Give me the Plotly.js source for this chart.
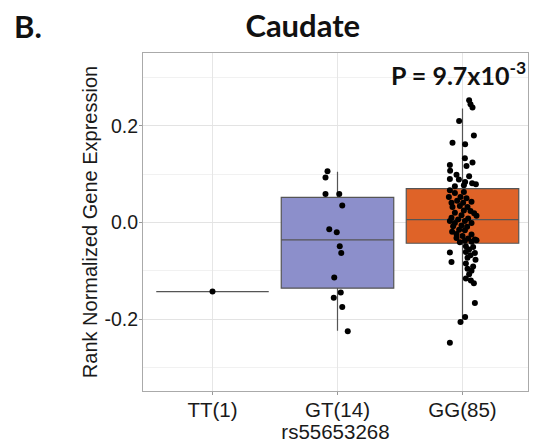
<!DOCTYPE html>
<html><head><meta charset="utf-8">
<script src="https://cdn.plot.ly/plotly-3.0.1.min.js"></script>
<style>html,body{margin:0;padding:0;background:#fff}#plot{width:534px;height:443px}</style>
</head><body><div id="plot"></div>
<script>
// Categories and tick labels
const categories = ["TT(1)", "GT(14)", "GG(85)"];
const catPos = [1, 2, 3];
// Box statistics
const boxQ1 = [-0.143, -0.136, -0.043];
const boxMedian = [-0.143, -0.036, 0.006];
const boxQ3 = [-0.143, 0.052, 0.070];
const boxLower = [-0.143, -0.224, -0.209];
const boxUpper = [-0.143, 0.105, 0.236];
const boxFill = ["#ffffff", "#8c8fcb", "#df6328"];
// Individual points (values and horizontal jitter)
const ttVals = [-0.143];
const ttJitter = [0];
const gtVals = [0.106, 0.093, 0.059, 0.059, 0.035, -0.014, -0.020, -0.049, -0.063, -0.114, -0.145, -0.156, -0.175, -0.225];
const gtJitter = [-0.080, -0.096, -0.096, 0.014, 0.038, -0.066, -0.006, 0.018, 0.030, -0.026, 0.026, -0.030, 0.038, 0.082];
const ggVals = [0.253, 0.245, 0.238, 0.210, 0.180, 0.165, 0.162, 0.133, 0.124, 0.119, 0.117, 0.107, 0.099, 0.096, 0.090, 0.089, 0.084, 0.081, 0.079, 0.077, 0.075,
  0.067, 0.061, 0.063, 0.053, 0.053, 0.050, 0.045, 0.041, 0.041, 0.043, 0.032, 0.034, 0.032, 0.025, 0.024, 0.020, 0.019, 0.014, 0.015, 0.010, 0.008, 0.006,
  0.003, 0.003, -0.001, -0.001, -0.008, -0.006, -0.009, -0.015, -0.016, -0.019, -0.024, -0.025, -0.028, -0.032, -0.033, -0.035, -0.038, -0.040, -0.041, -0.037,
  -0.049, -0.051, -0.056, -0.061, -0.062, -0.063, -0.068, -0.073, -0.082, -0.077, -0.085, -0.091, -0.096, -0.100, -0.107, -0.116, -0.120, -0.126, -0.167, -0.196, -0.206, -0.249];
const ggJitter = [0.053, 0.064, 0.080, -0.027, 0.091, -0.080, 0.021, 0.019, 0.080, -0.101, 0.032, -0.099, -0.048, 0.053, -0.101, -0.029, 0.021, 0.077, 0.107, 0.011, -0.061,
  -0.101, -0.061, 0.011, -0.109, -0.016, 0.032, -0.043, -0.088, 0.005, 0.072, -0.080, -0.021, 0.040, 0.011, 0.064, -0.061, 0.093, 0.112, -0.008, -0.088, 0.045, -0.035,
  -0.101, 0.019, -0.061, 0.072, -0.075, -0.008, 0.037, -0.027, 0.019, -0.083, -0.048, 0.072, 0.000, -0.048, 0.045, 0.099, 0.019, 0.072, -0.021, 0.112,
  0.027, 0.085, 0.053, 0.027, -0.101, 0.099, 0.064, 0.040, -0.088, 0.104, 0.027, 0.085, 0.040, 0.072, 0.053, 0.027, 0.067, 0.091, 0.099, 0.021, -0.016, -0.101];
const yTickVals = [-0.2, 0.0, 0.2];
const yTickText = ["-0.2", "0.0", "0.2"];

const sansFont = "'Liberation Sans', Arial, Helvetica, sans-serif";
const boldFont = "Lato, 'Open Sans', sans-serif";

const traces = [];
for (let i = 0; i < categories.length; i++) {
  traces.push({
    type: "box", x: [catPos[i]], q1: [boxQ1[i]], median: [boxMedian[i]], q3: [boxQ3[i]],
    lowerfence: [boxLower[i]], upperfence: [boxUpper[i]],
    width: 0.9, whiskerwidth: 0, boxpoints: false,
    fillcolor: boxFill[i], line: {color: "#555555", width: 1.2},
    showlegend: false, hoverinfo: "skip"
  });
}
const pointSets = [[ttVals, ttJitter, 1], [gtVals, gtJitter, 2], [ggVals, ggJitter, 3]];
pointSets.forEach(([vals, jit, c]) => {
  traces.push({
    type: "scatter", mode: "markers",
    x: vals.map((v, k) => c + jit[k]), y: vals,
    marker: {color: "#000000", size: 6},
    showlegend: false, hoverinfo: "skip"
  });
});

const layout = {
  width: 534, height: 443,
  margin: {l: 143, r: 6, t: 53, b: 52},
  paper_bgcolor: "#ffffff", plot_bgcolor: "#ffffff",
  font: {family: sansFont, color: "#1a1a1a"},
  showlegend: false, boxmode: "overlay",
  title: {text: "<b>Caudate</b>", font: {family: boldFont, size: 31, color: "#111"},
    x: 0.567, xref: "container", xanchor: "center", y: 0.942, yref: "container", yanchor: "middle"},
  xaxis: {
    range: [0.444, 3.524], tickvals: catPos, ticktext: categories,
    tickfont: {family: sansFont, size: 20.5, color: "#1a1a1a"},
    ticks: "outside", ticklen: 3, tickcolor: "#999", ticklabelstandoff: -3,
    showgrid: true, gridcolor: "#e6e6e6", gridwidth: 1,
    showline: true, linecolor: "#aaaaaa", linewidth: 1, mirror: true, zeroline: false,
    title: {text: "rs55653268", font: {family: sansFont, size: 20.5, color: "#1a1a1a"}, standoff: 3}
  },
  yaxis: {
    range: [-0.349, 0.351], tickvals: yTickVals, ticktext: yTickText,
    tickfont: {family: sansFont, size: 19.5, color: "#1a1a1a"},
    ticks: "outside", ticklen: 3, tickcolor: "#999", ticklabelstandoff: -3,
    showgrid: true, gridcolor: "#e3e3e3", gridwidth: 1,
    minor: {tickvals: [-0.3, -0.1, 0.1, 0.3], showgrid: true, gridcolor: "#f1f1f1", gridwidth: 1, ticks: ""},
    showline: true, linecolor: "#aaaaaa", linewidth: 1, mirror: true, zeroline: false,
    title: {text: "Rank Normalized Gene Expression", font: {family: sansFont, size: 20, color: "#1a1a1a"}, standoff: 1}
  },
  annotations: [
    {text: "<b>B.</b>", xref: "paper", yref: "paper", x: -0.34, y: 1.08, xanchor: "left", yanchor: "middle",
      showarrow: false, font: {family: boldFont, size: 31, color: "#111"}},
    {text: "<b>P = 9.7x10<sup>-3</sup></b>", xref: "paper", yref: "y", x: 1.0, y: 0.308, xanchor: "right", yanchor: "middle",
      showarrow: false, font: {family: boldFont, size: 25, color: "#111"}}
  ]
};
Plotly.newPlot("plot", traces, layout, {staticPlot: true, displayModeBar: false});
</script></body></html>
